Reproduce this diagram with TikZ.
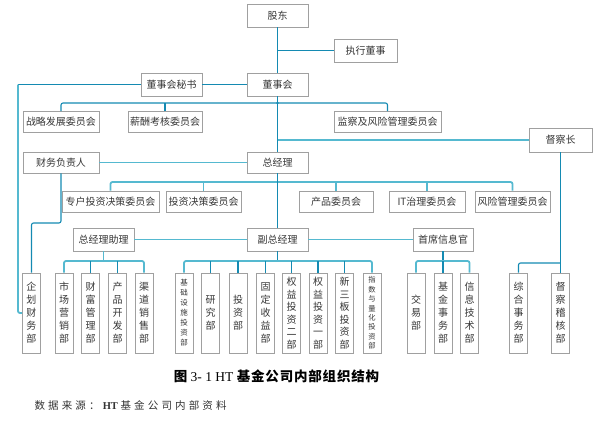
\documentclass[tikz,border=0pt]{standalone}
\usepackage{fontspec}
\setmainfont{Liberation Serif}
\newfontfamily\cjk{Noto Sans CJK SC}
\newfontfamily\cjksp[LetterSpace=30]{Noto Sans CJK SC}
\newfontfamily\cjkcap[LetterSpace=6]{Noto Sans CJK SC}
\usetikzlibrary{calc}
\definecolor{lndark}{RGB}{20,138,178}
\definecolor{lnlight}{RGB}{85,185,208}
\definecolor{boxgray}{RGB}{160,160,160}
\definecolor{txt}{RGB}{55,55,55}
\tikzset{
  box/.style={draw=boxgray, line width=0.7pt, fill=white, inner sep=0pt, text=txt,
    font=\cjk\fontsize{10}{12}\selectfont, minimum height=23pt},
  dept/.style={draw=boxgray, line width=0.7pt, fill=white, inner sep=0pt, text=txt,
    minimum width=18pt, minimum height=80pt, align=center,
    font=\cjk\fontsize{10}{13}\selectfont},
  deptsm/.style={dept, font=\cjk\fontsize{7.5}{10}\selectfont},
  deptxs/.style={dept, font=\cjk\fontsize{7.3}{9.4}\selectfont},
  dk/.style={draw=lndark, line width=1.1pt, rounded corners=2pt},
  lt/.style={draw=lnlight, line width=1.8pt, rounded corners=2pt},
}
\begin{document}
\begin{tikzpicture}[x=1pt,y=-1pt]
\useasboundingbox (0,0) rectangle (595,421);
% top
\node[box, minimum width=61pt] (gd) at (277.5,15.5) {股东};
\node[box, minimum width=63pt] (zxds) at (365.5,50.5) {执行董事};
\node[box, minimum width=61pt] (dsh) at (277.5,84.5) {董事会};
\node[box, minimum width=61pt] (ms) at (171.5,84.5) {董事会秘书};
\node[box, minimum width=76pt, minimum height=21pt] (zl) at (61,122) {战略发展委员会};
\node[box, minimum width=74pt, minimum height=21pt] (xc) at (165,122) {薪酬考核委员会};
\node[box, minimum width=107pt, minimum height=21pt] (jc) at (387.5,122) {监察及风险管理委员会};
\node[box, minimum width=63pt, minimum height=24pt] (dcz) at (560.5,140) {督察长};
\node[box, minimum width=61pt, minimum height=21pt] (zjl) at (277.5,162.5) {总经理};
\node[box, minimum width=76pt, minimum height=21pt] (cw) at (61,162.5) {财务负责人};
\node[box, minimum width=97pt, minimum height=21pt] (zh) at (110.5,201.5) {专户投资决策委员会};
\node[box, minimum width=75pt, minimum height=21pt] (tz) at (203.5,201.5) {投资决策委员会};
\node[box, minimum width=74pt, minimum height=21pt] (cp) at (336,201.5) {产品委员会};
\node[box, minimum width=76pt, minimum height=21pt] (it) at (427,201.5) {IT治理委员会};
\node[box, minimum width=75pt, minimum height=21pt] (fx) at (512.5,201.5) {风险管理委员会};
\node[box, minimum width=61pt] (zlz) at (103.5,239.5) {总经理助理};
\node[box, minimum width=61pt] (fz) at (277.5,239.5) {副总经理};
\node[box, minimum width=60pt] (sx) at (443,239.5) {首席信息官};
% departments
\node[dept] (d1) at (31.5,313) {企\\划\\财\\务\\部};
\node[dept] (d2) at (64,313) {市\\场\\营\\销\\部};
\node[dept] (d3) at (90.5,313) {财\\富\\管\\理\\部};
\node[dept] (d4) at (117.5,313) {产\\品\\开\\发\\部};
\node[dept] (d5) at (144,313) {渠\\道\\销\\售\\部};
\node[deptsm] (d6) at (184,313) {基\\础\\设\\施\\投\\资\\部};
\node[dept] (d7) at (210.5,313) {研\\究\\部};
\node[dept] (d8) at (238,313) {投\\资\\部};
\node[dept] (d9) at (265.5,313) {固\\定\\收\\益\\部};
\node[dept, font=\cjk\fontsize{10}{12.5}\selectfont] (d10) at (291.5,313) {权\\益\\投\\资\\二\\部};
\node[dept, font=\cjk\fontsize{10}{12.5}\selectfont] (d11) at (318,313) {权\\益\\投\\资\\一\\部};
\node[dept, font=\cjk\fontsize{10}{12.5}\selectfont] (d12) at (344.5,313) {新\\三\\板\\投\\资\\部};
\node[deptxs] (d13) at (372,313) {指\\数\\与\\量\\化\\投\\资\\部};
\node[dept] (d14) at (416,313) {交\\易\\部};
\node[dept] (d15) at (443,313) {基\\金\\事\\务\\部};
\node[dept] (d16) at (469.5,313) {信\\息\\技\\术\\部};
\node[dept] (d17) at (518.5,313) {综\\合\\事\\务\\部};
\node[dept] (d18) at (560.5,313) {督\\察\\稽\\核\\部};
% helper coordinates
\coordinate (b1) at (277.5,103);
\coordinate (b2) at (277.5,182);
\coordinate (lft) at (18,84.5);
\coordinate (cwk) at (61,223);
\coordinate (ba) at (103.5,261);
\coordinate (bf) at (277.5,261);
\coordinate (bs) at (443,261);
\coordinate (bd) at (560.5,263);
% connectors
\draw[dk] (gd.south) -- (dsh.north);
\draw[dk] (gd.south |- zxds.west) -- (zxds.west);
\draw[dk] (dsh.west) -- (ms.east);
\draw[dk] (ms.west) -- (lft);
\draw[lt] (lft) |- (d1.west);
\draw[dk] (dsh.south) -- (zjl.north);
\draw[dk] (zl.north) |- (b1) -| (jc.north);
\draw[dk] (xc.north) -- (xc.north |- b1);
\fill[lndark] (b1) circle (1.3pt);
\draw[lt] (dcz.west) -- (dcz.west -| zjl.north);
\draw[lt] (zjl.west) -- (cw.east);
\draw[dk] (cw.south) -- (cwk) -| (d1.north);
\draw[lt] (zh.north) |- (b2) -| (fx.north);
\draw[lt] (tz.north) -- (tz.north |- b2);
\draw[lt] (cp.north) -- (cp.north |- b2);
\draw[lt] (it.north) -- (it.north |- b2);
\draw[dk] (zjl.south) -- (fz.north);
\draw[lt] (fz.west) -- (zlz.east);
\draw[lt] (fz.east) -- (sx.west);
% assistant departments
\draw[lt] (zlz.south) -- (ba);
\draw[lt] (d2.north) |- (ba) -| (d5.north);
\draw[dk] (d3.north) -- (d3.north |- ba);
\draw[dk] (d4.north) -- (d4.north |- ba);
% deputy GM departments
\draw[dk] (fz.south) -- (bf);
\draw[lt] (d6.north) |- (bf) -| (d13.north);
\foreach \d in {d7,d8,d9,d10,d11,d12}{\draw[dk] (\d.north) -- (\d.north |- bf);}
% CIO departments
\draw[dk] (sx.south) -- (bs);
\draw[lt] (d14.north) |- (bs) -| (d16.north);
\draw[dk] (d15.north) -- (bs);
% inspector departments
\draw[dk] (dcz.south) -- (d18.north);
\draw[dk] (d17.north) |- (bd);
% captions
\node[text=black] (cap) at (276.5,376) {\fontsize{13.5}{15}\selectfont{\cjk\bfseries 图} 3- 1 HT {\cjkcap\bfseries 基金公司内部组织结构}};
\node[anchor=west, text=black!80] (src) at (31,405) {\fontsize{10.5}{12}\selectfont{\cjksp 数据来源：}\textbf{HT}\ {\cjksp 基金公司内部资料}};
\end{tikzpicture}
\end{document}
